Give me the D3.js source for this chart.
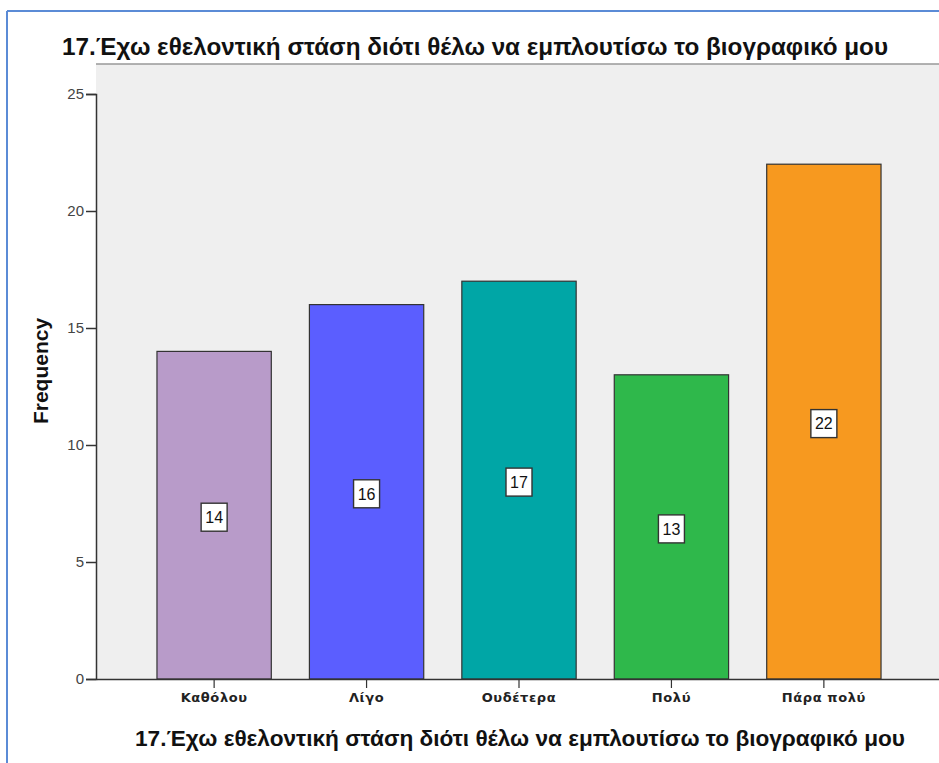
<!DOCTYPE html>
<html lang="el">
<head>
<meta charset="UTF-8">
<title>Frequency chart</title>
<script src="https://d3js.org/d3.v7.min.js"></script>
<style>
    body { margin: 0; background: #fff; }
    svg { display: block; font-family: "Liberation Sans", Arial, sans-serif; }
    .title { font-size: 24px; font-weight: bold; fill: #111; }
    .axis-title { font-size: 22px; font-weight: bold; fill: #111; }
</style>
</head>
<body>
<svg width="939" height="763"></svg>
<script>
// data
const categories = ["Καθόλου", "Λίγο", "Ουδέτερα", "Πολύ", "Πάρα πολύ"];
const counts = [14, 16, 17, 13, 22];
const colors = ["#B89BC9", "#5B5EFF", "#00A6A6", "#2FB84B", "#F7991F"];
const yTicks = [0, 5, 10, 15, 20, 25];
const titleText = "17.Έχω εθελοντική στάση διότι θέλω να εμπλουτίσω το βιογραφικό μου";

const svg = d3.select("svg");
const plotLeft = 96, plotRight = 942, plotTop = 64, plotBottom = 679;

// blue frame
svg.append("line").attr("x1", 7).attr("x2", 939).attr("y1", 11).attr("y2", 11)
    .attr("stroke", "#5B8BD6").attr("stroke-width", 2);
svg.append("line").attr("x1", 7).attr("x2", 7).attr("y1", 11).attr("y2", 763)
    .attr("stroke", "#5B8BD6").attr("stroke-width", 2);

const x = d3.scaleBand()
    .domain(categories)
    .range([plotLeft, plotRight])
    .paddingInner(0.25)
    .paddingOuter(0.4);

const y = d3.scaleLinear()
    .domain([0, 25])
    .range([plotBottom, plotBottom - 25 * 23.4]);

// plot background
svg.append("rect")
    .attr("x", plotLeft).attr("y", plotTop)
    .attr("width", plotRight - plotLeft).attr("height", plotBottom - plotTop)
    .attr("fill", "#EFEFEF");
svg.append("line").attr("x1", plotLeft).attr("x2", plotRight).attr("y1", plotTop).attr("y2", plotTop)
    .attr("stroke", "#999").attr("stroke-width", 1.5);

// bars
svg.selectAll(".bar")
    .data(counts)
    .join("rect")
    .attr("class", "bar")
    .attr("x", (d, i) => x(categories[i]))
    .attr("y", d => y(d))
    .attr("width", x.bandwidth())
    .attr("height", d => y(0) - y(d))
    .attr("fill", (d, i) => colors[i])
    .attr("stroke", "#333")
    .attr("stroke-width", 1.2);

// value labels
const lab = svg.selectAll(".lab")
    .data(counts)
    .join("g")
    .attr("class", "lab")
    .attr("transform", (d, i) => `translate(${x(categories[i]) + x.bandwidth() / 2},${(y(d) + y(0)) / 2 + 2})`);
lab.append("rect")
    .attr("x", -13).attr("y", -14).attr("width", 26).attr("height", 28)
    .attr("fill", "#fff").attr("stroke", "#333").attr("stroke-width", 1.4);
lab.append("text")
    .attr("text-anchor", "middle").attr("dy", "0.36em")
    .style("font-size", "16px").style("fill", "#111")
    .text(d => d);

// y axis
const yAxis = svg.append("g")
    .attr("transform", `translate(${plotLeft},0)`)
    .call(d3.axisLeft(y).tickValues(yTicks).tickSize(10).tickPadding(2));
yAxis.select(".domain").attr("stroke", "#333").attr("stroke-width", 1.5);
yAxis.selectAll(".tick line").attr("stroke", "#333").attr("stroke-width", 1.5);
yAxis.selectAll(".tick text")
    .style("font-family", "'Liberation Sans', Arial, sans-serif")
    .style("font-size", "15px").style("fill", "#444");

// x axis
const xAxis = svg.append("g")
    .attr("transform", `translate(0,${plotBottom})`)
    .call(d3.axisBottom(x).tickSize(9).tickPadding(5).tickSizeOuter(0));
xAxis.select(".domain").attr("stroke", "#333").attr("stroke-width", 1.5);
xAxis.selectAll(".tick line").attr("stroke", "#333").attr("stroke-width", 1.2);
xAxis.selectAll(".tick text")
    .style("font-family", "'DejaVu Sans', sans-serif")
    .style("font-size", "13px").style("font-weight", "bold")
    .style("letter-spacing", "0.6px").style("fill", "#222");

// titles
svg.append("text").attr("class", "title")
    .attr("x", 475).attr("y", 55).attr("text-anchor", "middle")
    .attr("textLength", 826).attr("lengthAdjust", "spacingAndGlyphs")
    .text(titleText);
svg.append("text").attr("class", "axis-title")
    .attr("x", 520).attr("y", 746).attr("text-anchor", "middle")
    .attr("textLength", 770).attr("lengthAdjust", "spacingAndGlyphs")
    .text(titleText);
svg.append("text").attr("class", "axis-title")
    .attr("transform", "translate(48,371) rotate(-90)")
    .attr("text-anchor", "middle")
    .style("font-size", "21px")
    .text("Frequency");
</script>
</body>
</html>
